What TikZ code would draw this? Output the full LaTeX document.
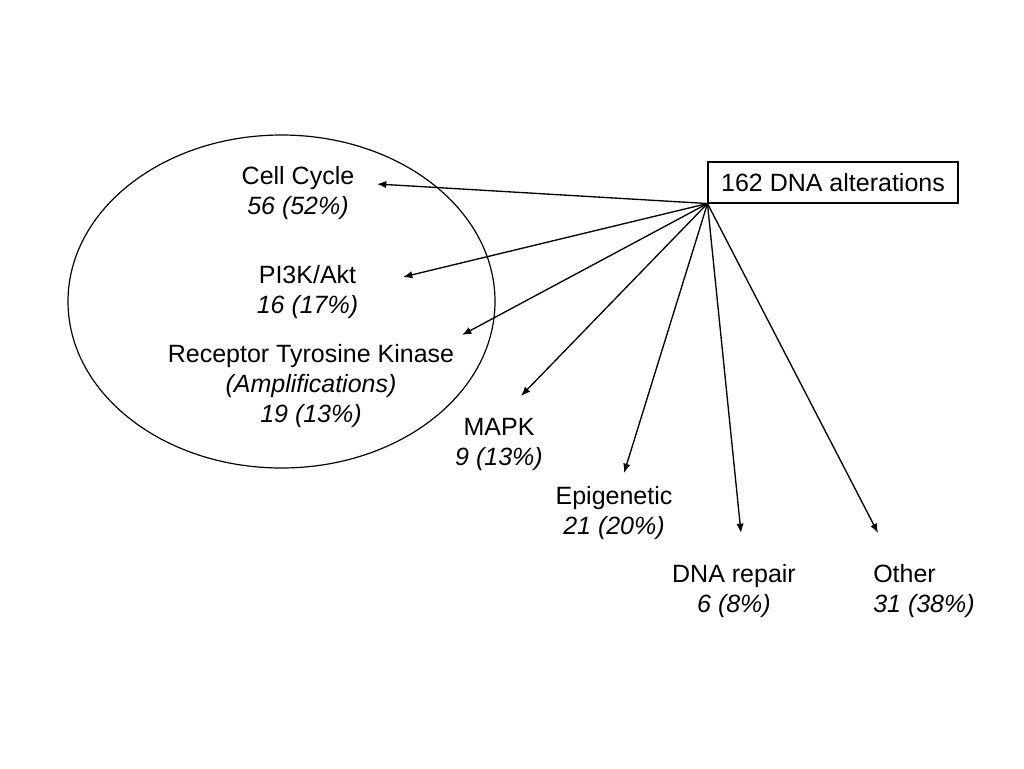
\documentclass[tikz,border=0pt]{standalone}
\usepackage{fontspec}
\setmainfont{Liberation Sans}
\usetikzlibrary{arrows.meta}
\begin{document}
\begin{tikzpicture}[x=0.75pt,y=-0.75pt,
  lbl/.style={inner sep=0pt,align=center,font=\fontsize{18.75}{22.5}\selectfont},
  conn/.style={line width=1pt,-{Latex[length=7pt,width=5.5pt]}}]
\useasboundingbox (0,0) rectangle (1024,768);
\draw[line width=0.9pt] (281.5,301.5) ellipse [x radius=213.5, y radius=166.5];
\node[draw,line width=0.8pt,inner sep=0pt,minimum width=187.5pt,minimum height=30.75pt,font=\fontsize{18.75}{22.5}\selectfont] (box) at (833,182.5) {162 DNA alterations};
\node[lbl] (cc) at (298,193) {Cell Cycle\\\textit{56 (52\%)}};
\node[lbl] (pi) at (307.5,291.7) {PI3K/Akt\\\textit{16 (17\%)}};
\node[lbl] (rtk) at (311,386) {Receptor Tyrosine Kinase\\\textit{(Amplifications)}\\\textit{19 (13\%)}};
\node[lbl] (mapk) at (499,444.7) {MAPK\\\textit{9 (13\%)}};
\node[lbl] (epi) at (614,512.7) {Epigenetic\\\textit{21 (20\%)}};
\node[lbl] (dna) at (734,590.7) {DNA repair\\\textit{6 (8\%)}};
\node[lbl,align=left,anchor=west] (oth) at (873,590.7) {Other\\\textit{31 (38\%)}};
\coordinate (o) at (box.south west);
\coordinate (tcc) at (377,184);
\coordinate (tpi) at (403,277);
\coordinate (trtk) at (462,335);
\coordinate (tmapk) at (521,396);
\coordinate (tepi) at (624,473);
\coordinate (tdna) at (741,533);
\coordinate (toth) at (878,533);
\foreach \t in {tcc,tpi,trtk,tmapk,tepi,tdna,toth}
  \draw[conn] (o) -- (\t);
\end{tikzpicture}
\end{document}
